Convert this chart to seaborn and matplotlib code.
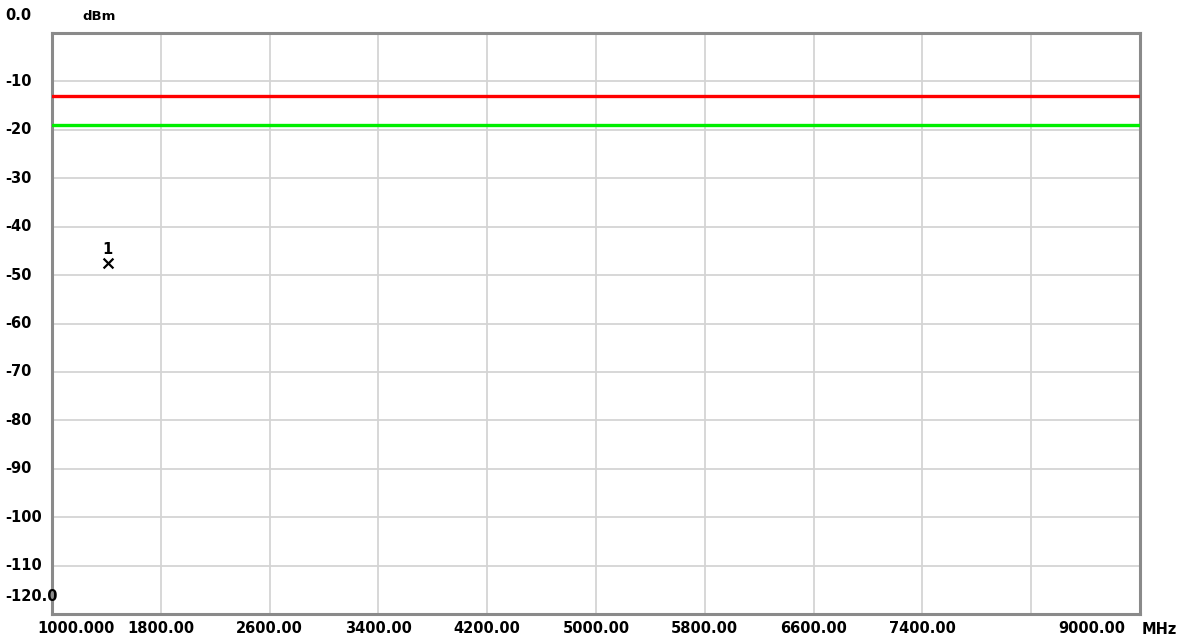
import pandas as pd
import seaborn as sns
import matplotlib.pyplot as plt
import matplotlib.transforms as mtransforms

# values
freq_span = [1000, 9000]
red_limit = [-13, -13]
green_limit = [-19, -19]
marker_freq = [1410]
marker_level = [-47.5]
marker_names = ['1']

x_ticks = [1000, 1800, 2600, 3400, 4200, 5000, 5800, 6600, 7400, 8200, 9000]
x_labels = ['1000.000', '1800.00', '2600.00', '3400.00', '4200.00', '5000.00',
            '5800.00', '6600.00', '7400.00', '', '9000.00']
y_ticks = [0, -10, -20, -30, -40, -50, -60, -70, -80, -90, -100, -110, -120]
y_labels = ['0.0', '-10', '-20', '-30', '-40', '-50', '-60', '-70', '-80',
            '-90', '-100', '-110', '-120.0']

sns.set_style('white')
plt.rcParams['font.family'] = ['DejaVu Sans']
plt.rcParams['font.weight'] = 'bold'
plt.rcParams['text.color'] = 'black'
plt.rcParams['xtick.color'] = 'black'

fig = plt.figure(figsize=(11.89, 6.41), dpi=100)
ax = fig.add_axes([52 / 1189, 1 - 614 / 641, 1088 / 1189, 581 / 641])

lines = pd.DataFrame({'freq': freq_span * 2,
                      'level': red_limit + green_limit,
                      'trace': ['red'] * 2 + ['green'] * 2})
sns.lineplot(data=lines, x='freq', y='level', hue='trace',
             palette={'red': '#ff0000', 'green': '#00ee00'},
             linewidth=2.4, legend=False, ax=ax, zorder=3)

marks = pd.DataFrame({'freq': marker_freq, 'level': marker_level})
sns.scatterplot(data=marks, x='freq', y='level', marker='x', color='black',
                s=50, linewidth=1.6, ax=ax, zorder=4)
for f, l, n in zip(marker_freq, marker_level, marker_names):
    ax.annotate(n, (f, l), xytext=(0, 4), textcoords='offset points',
                ha='center', va='bottom', fontsize=10.5, fontweight='bold',
                color='black')

ax.set_xlim(1000, 9000)
ax.set_ylim(-120, 0)
ax.set_xticks(x_ticks)
ax.set_xticklabels(x_labels)
ax.set_yticks(y_ticks)
ax.set_yticklabels([])
ax.set_xlabel('')
ax.set_ylabel('')
ax.grid(True, color='#d4d4d4', linewidth=1.3)
ax.set_axisbelow(True)
ax.tick_params(axis='both', length=0)
ax.tick_params(axis='x', pad=5, labelsize=10.5, labelcolor='black')
for lab in ax.get_xticklabels():
    lab.set_fontweight('bold')

# end labels sit off their tick, like on the instrument screen
xlabs = ax.get_xticklabels()
xlabs[0].set_horizontalalignment('left')
xlabs[0].set_transform(xlabs[0].get_transform() + mtransforms.ScaledTranslation(-0.15, 0, fig.dpi_scale_trans))
xlabs[-1].set_horizontalalignment('right')
xlabs[-1].set_transform(xlabs[-1].get_transform() + mtransforms.ScaledTranslation(-0.15, 0, fig.dpi_scale_trans))

# y labels are left aligned at the screen edge
ytrans = mtransforms.blended_transform_factory(fig.transFigure, ax.transData)
for i, (v, s) in enumerate(zip(y_ticks, y_labels)):
    va = 'center'
    off = mtransforms.ScaledTranslation(0, 0, fig.dpi_scale_trans)
    if i == 0 or i == len(y_ticks) - 1:
        va = 'bottom'
        off = mtransforms.ScaledTranslation(0, 0.1, fig.dpi_scale_trans)
    fig.text(5 / 1189, v, s, transform=ytrans + off, ha='left', va=va,
             fontsize=10.5, fontweight='bold', color='black')

fig.text(82 / 1189, 1 - 17 / 641, 'dBm', fontsize=9.5, fontweight='bold', va='center', color='black')
fig.text(1142 / 1189, 1 - 630 / 641, 'MHz', fontsize=10.5, fontweight='bold', va='center', color='black')

for sp in ax.spines.values():
    sp.set_visible(True)
    sp.set_color('#8a8a8a')
    sp.set_linewidth(2.2)

plt.savefig('out.png', dpi=100)
